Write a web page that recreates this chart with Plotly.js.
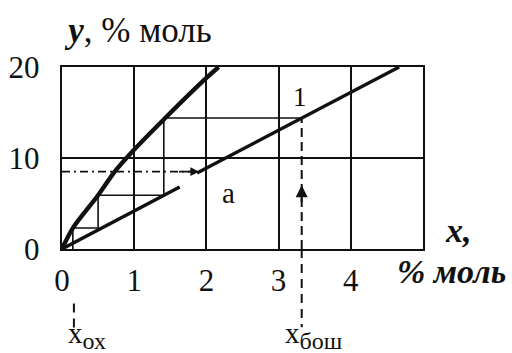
<!DOCTYPE html>
<html>
<head>
<meta charset="utf-8">
<script src="https://cdn.plot.ly/plotly-3.0.1.min.js"></script>
<style>
  html, body { margin: 0; padding: 0; background: #fff; }
  #chart { width: 512px; height: 353px; }
</style>
</head>
<body>
<div id="chart"></div>
<script>
// Equilibrium curve y*(x), % моль
const eqX = [0, 0.15, 0.5, 0.73, 0.95, 1.43, 2.0, 2.17];
const eqY = [0, 2.3, 5.9, 8.5, 10.5, 14.4, 18.8, 20];

// Operating line 1, drawn in two pieces around point a
const opLowX = [0, 1.63];
const opLowY = [0, 6.8];
const opHighX = [1.87, 4.67];
const opHighY = [8.35, 20];

// Stage-by-stage construction between the curve and the operating line
const stepX = [0.15, 0.15, 0.5, 0.5, 1.41, 1.41, 3.32];
const stepY = [0, 2.3, 2.3, 5.9, 5.9, 14.4, 14.4];

// Liquid compositions: top of the column and bottom
const xOx = 0;
const xBosh = 3.32;
const yBosh = 14.4;
const arrowTipY = 7.0;

// Dashed guide to point a
const guideX = [0, 1.9];
const guideY = [8.5, 8.5];
const labelA = { x: 2.30, y: 6.2, text: 'a' };
const labelLine = { x: 3.30, y: 16.7, text: '1' };

// Axis ticks
const xTicks = [0, 1, 2, 3, 4];
const yTicks = [0, 10, 20];

const ink = '#111';
const serif = 'Liberation Serif';

const traces = [
  { x: guideX, y: guideY, mode: 'lines', line: { color: ink, width: 1.6, dash: '8px,4px,2px,4px' }, hoverinfo: 'skip' },
  { x: stepX, y: stepY, mode: 'lines', line: { color: ink, width: 1.6 }, hoverinfo: 'skip' },
  { x: [xBosh, xBosh], y: [0, yBosh], mode: 'lines', line: { color: ink, width: 2, dash: '9px,5px' }, hoverinfo: 'skip' },
  { x: opLowX, y: opLowY, mode: 'lines', line: { color: ink, width: 3.4 }, hoverinfo: 'skip' },
  { x: opHighX, y: opHighY, mode: 'lines', line: { color: ink, width: 3.4 }, hoverinfo: 'skip' },
  { x: eqX, y: eqY, mode: 'lines', line: { color: ink, width: 4.4, shape: 'spline', smoothing: 0.8 }, hoverinfo: 'skip' }
];

const axisCommon = {
  showgrid: true, gridcolor: ink, gridwidth: 2,
  showline: true, mirror: true, linecolor: ink, linewidth: 2.4,
  zeroline: false, ticks: '', fixedrange: true,
  tickfont: { family: serif, size: 31, color: ink }
};

const layout = {
  width: 512, height: 353,
  margin: { l: 62, r: 89, t: 67, b: 104 },
  paper_bgcolor: '#fff', plot_bgcolor: '#fff',
  font: { family: serif, color: ink },
  showlegend: false,
  title: {
    text: '<b><i>y</i></b>, % моль',
    font: { family: serif, size: 35, color: ink },
    x: 140 / 512, xanchor: 'center', y: 1 - 30 / 353, yanchor: 'middle'
  },
  xaxis: Object.assign({}, axisCommon, {
    range: [0, 5], tickvals: xTicks, ticktext: xTicks.map(String), ticklabelstandoff: 2
  }),
  yaxis: Object.assign({}, axisCommon, {
    range: [0, 20], tickvals: yTicks, ticktext: yTicks.map(String), ticklabelstandoff: 14
  }),
  shapes: [
    // x_бош marker continued below the axis
    { type: 'line', xref: 'x', yref: 'paper', x0: xBosh, x1: xBosh, y0: 0, y1: -0.43,
      line: { color: ink, width: 2, dash: '9px,6px' } },
    // x_ох marker below the axis
    { type: 'line', xref: 'paper', yref: 'paper', x0: 0.033, x1: 0.033, y0: -0.30, y1: -0.46,
      line: { color: ink, width: 2, dash: '9px,6px' } }
  ],
  annotations: [
    { xref: 'paper', yref: 'paper', x: 1.0997, y: 0.099, xanchor: 'center', yanchor: 'middle',
      text: '<b><i>x,</i></b>', showarrow: false,
      font: { family: serif, size: 34, color: ink } },
    { xref: 'paper', yref: 'paper', x: 1.078, y: -0.126, xanchor: 'center', yanchor: 'middle',
      text: '<b><i>% моль</i></b>', showarrow: false,
      font: { family: serif, size: 34, color: ink } },
    { x: labelA.x, y: labelA.y, text: labelA.text, showarrow: false,
      font: { family: serif, size: 29, color: ink } },
    { x: labelLine.x, y: labelLine.y, text: labelLine.text, showarrow: false,
      font: { family: serif, size: 27, color: ink } },
    { xref: 'paper', yref: 'paper', x: 0.069, y: -0.478, xanchor: 'center', yanchor: 'middle',
      text: 'x<sub><span style="font-size:24px">ох</span></sub>', showarrow: false,
      font: { family: serif, size: 29, color: ink } },
    { xref: 'x', yref: 'paper', x: xBosh, xshift: 12, y: -0.478, xanchor: 'center', yanchor: 'middle',
      text: 'x<sub><span style="font-size:24px">бош</span></sub>', showarrow: false,
      font: { family: serif, size: 29, color: ink } },
    // arrow up along the x_бош marker
    { x: xBosh, y: arrowTipY, ax: xBosh, ay: arrowTipY - 2, axref: 'x', ayref: 'y',
      showarrow: true, arrowhead: 2, arrowsize: 1.2, arrowwidth: 2, arrowcolor: ink, text: '' },
    // arrow at the end of the dashed guide
    { x: guideX[1], y: guideY[1], ax: guideX[1] - 0.3, ay: guideY[1], axref: 'x', ayref: 'y',
      showarrow: true, arrowhead: 2, arrowsize: 1.1, arrowwidth: 1.6, arrowcolor: ink, text: '' }
  ]
};

Plotly.newPlot('chart', traces, layout, { displayModeBar: false, staticPlot: true });
</script>
</body>
</html>
